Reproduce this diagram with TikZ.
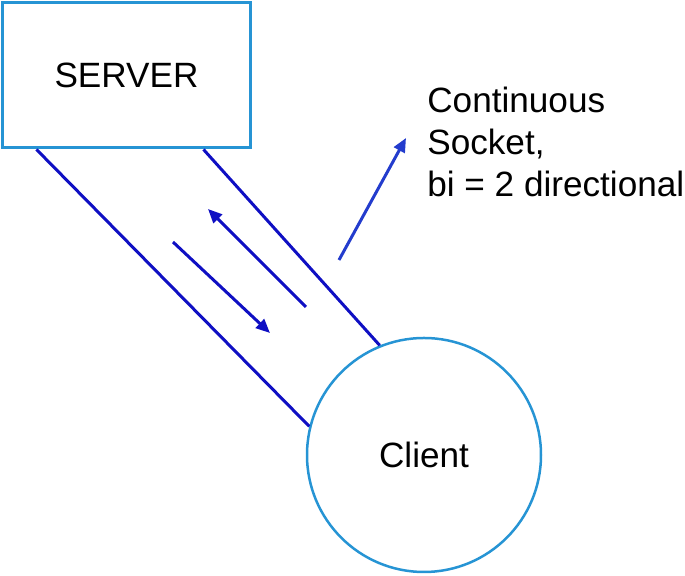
\documentclass[tikz,border=0pt]{standalone}
\usepackage{fontspec}
\setmainfont{Liberation Sans}
\usepackage{xcolor}
\usepackage{tikz}
\usetikzlibrary{arrows.meta, positioning, calc}
\definecolor{bleuCadre}{RGB}{38, 148, 212}
\definecolor{bleuTrait}{RGB}{15, 15, 195}
\definecolor{bleuFleche}{RGB}{35, 60, 205}

\begin{document}
\begin{tikzpicture}[
  srv/.style={rectangle, draw=bleuCadre, line width=0.06cm, fill=white,
    minimum width=4.94cm, minimum height=2.9cm, inner sep=0pt,
    font=\fontsize{20}{24}\selectfont},
  cli/.style={circle, draw=bleuCadre, line width=0.05cm, fill=white,
    minimum size=4.68cm, inner sep=0pt,
    font=\fontsize{20}{24}\selectfont},
  conn/.style={draw=bleuTrait, line width=0.06cm},
  arr/.style={-{Triangle[length=2.8mm, width=2.4mm]}, line width=0.06cm},
  lbl/.style={align=left, inner sep=0pt,
    font=\fontsize{20}{23.9}\selectfont},
]
\useasboundingbox (0,0) rectangle (13.7,11.52);
\node[srv] (server) at (2.53, 10.01) {SERVER};
\node[cli] (client) at (8.48, 2.42) {Client};
\node[lbl, anchor=base west] (socket) at (8.54, 7.58)
  {Continuous\\Socket,\\bi = 2 directional};
% free ends of the arrows
\coordinate (upS) at (6.12, 5.38);
\coordinate (upE) at (4.16, 7.34);
\coordinate (dnS) at (3.46, 6.68);
\coordinate (dnE) at (5.40, 4.86);
\coordinate (lblS) at (6.78, 6.32);
\coordinate (lblE) at (8.12, 8.76);
\draw[conn]
  ($(server.south west)+(0.70,0)$) -- (client.166);
\draw[conn]
  ($(server.south west)+(4.04,0)$) -- (client.112);
\draw[arr, draw=bleuTrait, fill=bleuTrait] (upS) -- (upE);
\draw[arr, draw=bleuTrait, fill=bleuTrait] (dnS) -- (dnE);
\draw[arr, draw=bleuFleche, fill=bleuFleche] (lblS) -- (lblE);
\end{tikzpicture}
\end{document}
